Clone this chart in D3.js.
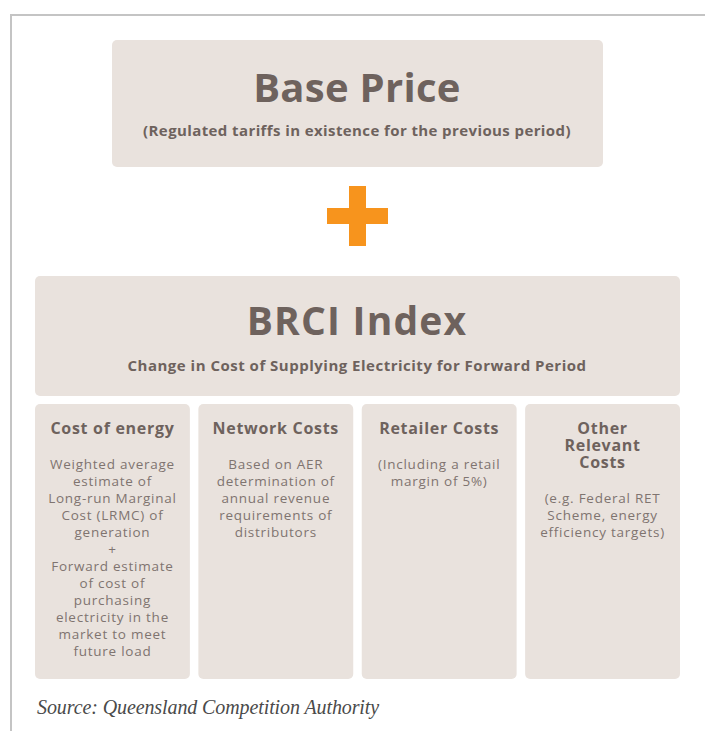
<!DOCTYPE html>
<html>
<head>
<meta charset="utf-8">
<script src="https://cdn.jsdelivr.net/npm/d3@7"></script>
<style>
  html, body { margin: 0; padding: 0; background: #fff; }
  svg { display: block; }
  .hd { font-family: "Open Sans", "Noto Sans", sans-serif; font-weight: 700; fill: #6e625d; }
  .bd { font-family: "Open Sans", "Noto Sans", sans-serif; font-weight: 400; fill: #7f7470; }
  .src { font-family: "Liberation Serif", "DejaVu Serif", serif; font-style: italic; fill: #4a4a4a; }
</style>
</head>
<body>
<svg id="chart"></svg>
<script>
/* ===============================
   Data
================================ */

const baseTitle = "Base Price";
const baseSubtitle = "(Regulated tariffs in existence for the previous period)";

const indexTitle = "BRCI Index";
const indexSubtitle = "Change in Cost of Supplying Electricity for Forward Period";

const components = ["Cost of energy", "Network Costs", "Retailer Costs", "Other Relevant Costs"];

const componentHeadings = [
  ["Cost of energy"],
  ["Network Costs"],
  ["Retailer Costs"],
  ["Other", "Relevant", "Costs"]
];

const componentBodies = [
  ["Weighted average", "estimate of", "Long-run Marginal", "Cost (LRMC) of", "generation", "+",
   "Forward estimate", "of cost of", "purchasing", "electricity in the", "market to meet", "future load"],
  ["Based on AER", "determination of", "annual revenue", "requirements of", "distributors"],
  ["(Including a retail", "margin of 5%)"],
  ["(e.g. Federal RET", "Scheme, energy", "efficiency targets)"]
];

const sourceNote = "Source: Queensland Competition Authority";

/* ===============================
   Setup
================================ */

const width = 705;
const height = 731;
const BOX = "#e9e2dd";
const ORANGE = "#f7941d";

const svg = d3.select("#chart")
  .attr("width", width)
  .attr("height", height);

/* frame lines */
svg.append("path")
  .attr("d", `M11,${height} V15 H${width}`)
  .attr("fill", "none")
  .attr("stroke", "#c4c4c4")
  .attr("stroke-width", 2);

/* ===============================
   Base Price
================================ */

svg.append("rect")
  .attr("x", 112).attr("y", 40)
  .attr("width", 491).attr("height", 127)
  .attr("rx", 5).attr("fill", BOX);

svg.append("text")
  .attr("class", "hd")
  .attr("x", 357).attr("y", 102)
  .attr("text-anchor", "middle")
  .attr("font-size", 40)
  .attr("letter-spacing", 0.3)
  .text(baseTitle);

svg.append("text")
  .attr("class", "hd")
  .attr("x", 357).attr("y", 136)
  .attr("text-anchor", "middle")
  .attr("font-size", 15)
  .attr("letter-spacing", 0.4)
  .text(baseSubtitle);

/* ===============================
   Plus sign
================================ */

svg.append("rect")
  .attr("x", 349).attr("y", 186)
  .attr("width", 17).attr("height", 60)
  .attr("fill", ORANGE);

svg.append("rect")
  .attr("x", 327).attr("y", 208)
  .attr("width", 61).attr("height", 16)
  .attr("fill", ORANGE);

/* ===============================
   BRCI Index
================================ */

svg.append("rect")
  .attr("x", 35).attr("y", 276)
  .attr("width", 645).attr("height", 120)
  .attr("rx", 5).attr("fill", BOX);

svg.append("text")
  .attr("class", "hd")
  .attr("x", 357).attr("y", 335)
  .attr("text-anchor", "middle")
  .attr("font-size", 39)
  .attr("letter-spacing", 1.2)
  .text(indexTitle);

svg.append("text")
  .attr("class", "hd")
  .attr("x", 357).attr("y", 371)
  .attr("text-anchor", "middle")
  .attr("font-size", 15)
  .attr("letter-spacing", 0.5)
  .text(indexSubtitle);

/* ===============================
   Component columns
================================ */

const x = d3.scaleBand()
  .domain(components)
  .range([35, 680])
  .paddingInner(0.052)
  .paddingOuter(0);

const LINE = 17;

const col = svg.selectAll(".col")
  .data(components)
  .enter()
  .append("g")
  .attr("class", "col")
  .attr("transform", d => `translate(${x(d)},404)`);

col.append("rect")
  .attr("width", x.bandwidth())
  .attr("height", 275)
  .attr("rx", 5)
  .attr("fill", BOX);

col.each(function (d, i) {
  const g = d3.select(this);
  const cx = x.bandwidth() / 2;
  const heads = componentHeadings[i];

  heads.forEach((t, j) => {
    g.append("text")
      .attr("class", "hd")
      .attr("x", cx)
      .attr("y", 30 + j * LINE)
      .attr("text-anchor", "middle")
      .attr("font-size", 16)
      .attr("letter-spacing", 0.7)
      .text(t);
  });

  const bodyTop = 30 + (heads.length - 1) * LINE + 35;
  componentBodies[i].forEach((t, j) => {
    g.append("text")
      .attr("class", "bd")
      .attr("x", cx)
      .attr("y", bodyTop + j * LINE)
      .attr("text-anchor", "middle")
      .attr("font-size", 13.5)
      .attr("letter-spacing", 0.75)
      .text(t);
  });
});

/* ===============================
   Source
================================ */

svg.append("text")
  .attr("class", "src")
  .attr("x", 37).attr("y", 714)
  .attr("font-size", 20)
  .attr("letter-spacing", -0.1)
  .text(sourceNote);
</script>
</body>
</html>
